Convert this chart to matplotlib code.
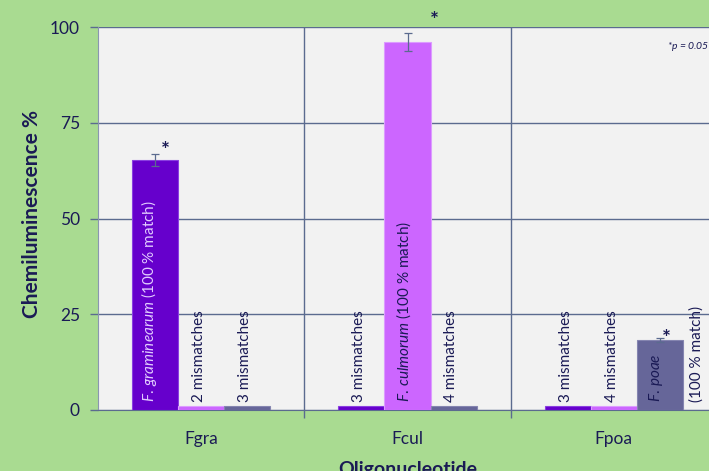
import numpy as np
import matplotlib
matplotlib.use("Agg")
import matplotlib.pyplot as plt

plt.rcParams['font.family'] = ['Lato', 'DejaVu Sans']
plt.rcParams['mathtext.fontset'] = 'custom'
plt.rcParams['mathtext.rm'] = 'Lato'
plt.rcParams['mathtext.it'] = 'Lato:italic'

oligos = ['Fgra', 'Fcul', 'Fpoa']
# three probe targets per oligonucleotide (match / mismatch strains)
series1 = [65.3, 1.0, 1.0]
series2 = [1.0, 96.1, 1.0]
series3 = [1.0, 1.0, 18.3]
err1 = [1.6, 0.0, 0.0]
err2 = [0.0, 2.4, 0.0]
err3 = [0.0, 0.0, 0.5]
labels1 = ['match', '3 mismatches', '3 mismatches']
labels2 = ['2 mismatches', 'match', '4 mismatches']
labels3 = ['3 mismatches', '4 mismatches', 'match']

BG = '#a9db91'
NAVY = '#1a1a55'
GRID = '#5b6b8f'
colors = ['#6600cc', '#cc66ff', '#666699']
edges = ['#8a3fe0', '#dc9cff', '#8585b0']

fig = plt.figure(figsize=(7.09, 4.71), dpi=100, facecolor=BG)
ax = fig.add_axes([98 / 709, 61 / 471, 619 / 709, 383 / 471])
ax.set_facecolor('#f2f2f2')

x = np.arange(len(oligos))
w = 0.223
series = [series1, series2, series3]
errs = [err1, err2, err3]
for i, (vals, e) in enumerate(zip(series, errs)):
    pos = x + (i - 1) * w
    ax.bar(pos, vals, w, color=colors[i], edgecolor=edges[i], linewidth=0.8, zorder=3)
    mask = np.array(e) > 0
    ax.errorbar(pos[mask], np.array(vals)[mask], yerr=np.array(e)[mask], fmt='none',
                ecolor=GRID, elinewidth=0.9, capsize=3, capthick=0.9, zorder=4)

ax.set_xlim(-0.5, 2.5)
ax.set_ylim(0, 100)
ax.set_yticks([0, 25, 50, 75, 100])
ax.set_xticks(x)
ax.set_xticklabels(oligos, fontsize=12.5, color=NAVY)
ax.set_xticks([0.5, 1.5], minor=True)
ax.tick_params(axis='x', which='major', length=0, pad=15)
ax.tick_params(axis='x', which='minor', length=6, color=GRID, width=1)
ax.tick_params(axis='y', length=6, color=GRID, width=1, labelsize=12.5, labelcolor=NAVY, pad=7)
ax.yaxis.grid(True, color=GRID, linewidth=1, zorder=0)
ax.xaxis.grid(True, which='minor', color=GRID, linewidth=1, zorder=0)
ax.set_axisbelow(True)
for s in ['top', 'right']:
    ax.spines[s].set_visible(False)
ax.spines['left'].set_color('#8a96b0')
ax.spines['bottom'].set_color(GRID)

ax.set_ylabel('Chemiluminescence %', fontsize=15, fontweight='bold', color=NAVY)
ax.yaxis.set_label_coords(-0.09, 0.512)
ax.set_xlabel('Oligonucleotide', fontsize=14, fontweight='bold', color=NAVY, labelpad=10)

# rotated labels in and above bars
for i, labs in enumerate([labels1, labels2, labels3]):
    for j, lab in enumerate(labs):
        pos = x[j] + (i - 1) * w
        if lab != 'match':
            ax.text(pos - 0.01, 2.0, lab, rotation=90, ha='center', va='bottom',
                    fontsize=11, color=NAVY, zorder=5)

ax.text(x[0] - w - 0.03, 2.0, r'$\it{F.\,graminearum}$ (100 % match)', rotation=90,
        ha='center', va='bottom', fontsize=11, color='#e2ccff', zorder=5)
ax.text(x[1] - 0.02, 2.0, r'$\it{F.\,culmorum}$ (100 % match)', rotation=90,
        ha='center', va='bottom', fontsize=11, color=NAVY, zorder=5)
ax.text(x[2] + w - 0.02, 2.0, r'$\it{F.\,poae}$', rotation=90,
        ha='center', va='bottom', fontsize=11, color=NAVY, zorder=5)
ax.text(x[2] + w + 0.18, 2.0, '(100 % match)', rotation=90,
        ha='center', va='bottom', fontsize=11, color=NAVY, zorder=5, clip_on=False)

# significance marks
ax.text(x[0] - w + 0.03, series1[0] - 0.3, '*', fontsize=15, fontweight='bold', color=NAVY, ha='left', va='bottom')
ax.text(x[1] + 0.13, series2[1] + 2.8, '*', fontsize=15, fontweight='bold', color=NAVY, ha='center', va='bottom', clip_on=False)
ax.text(x[2] + w + 0.01, series3[2] - 2.3, '*', fontsize=15, fontweight='bold', color=NAVY, ha='left', va='bottom')
ax.text(2.465, 95, r'*$\it{p}$ = 0.05', fontsize=7.5, style='italic', color=NAVY, ha='right', va='center')

fig.savefig('out.png', dpi=100, facecolor=BG)
